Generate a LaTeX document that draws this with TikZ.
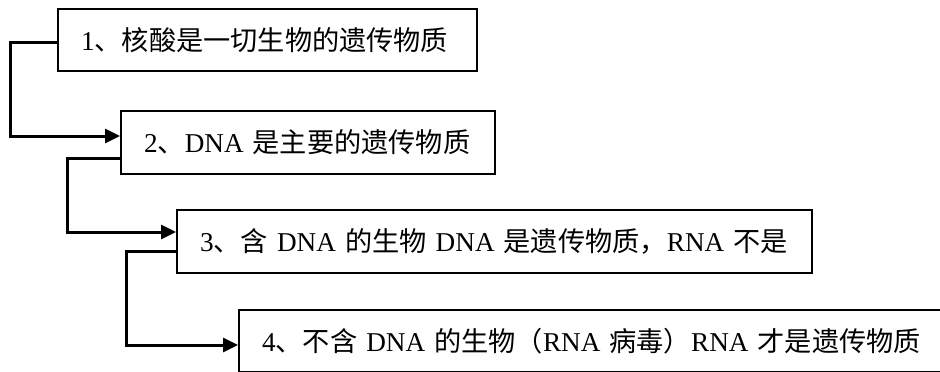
\documentclass[tikz,border=0pt]{standalone}
\usepackage{fontspec}
\setmainfont{Liberation Serif}
\newfontfamily\cjk{Noto Sans CJK SC}[Scale=1.0]
\usetikzlibrary{arrows.meta}
\begin{document}
\begin{tikzpicture}[x=1pt,y=-1pt,
  box/.style={draw=black,line width=2pt,rectangle,anchor=north west,inner xsep=23pt,inner ysep=0pt,
    align=left,font=\fontsize{27.2}{33}\selectfont},
  conn/.style={draw=black,line width=3pt,line join=miter,-{Triangle[length=15pt,width=14pt]}}]
\useasboundingbox (0,0) rectangle (940,372);
\clip (0,0) rectangle (940,372);
\node[box,minimum width=419pt,minimum height=62pt,text width=373pt] (b1) at (57,8)
  {1{\cjk 、核酸是一切生物的遗传物质}};
\node[box,minimum width=374pt,minimum height=63pt,text width=328pt] (b2) at (120,110)
  {2{\cjk 、}DNA {\cjk 是主要的遗传物质}};
\node[box,minimum width=635pt,minimum height=63pt,text width=589pt] (b3) at (176,209)
  {3{\cjk 、含} DNA {\cjk 的生物} DNA {\cjk 是遗传物质，}RNA {\cjk 不是}};
\node[box,minimum width=707pt,minimum height=62pt,text width=661pt] (b4) at (238,309)
  {4{\cjk 、不含} DNA {\cjk 的生物（}RNA {\cjk 病毒）}RNA {\cjk 才是遗传物质}};
\draw[conn] ([yshift=-2pt]b1.west) -- +(-47,0) |- ([yshift=6.5pt]b2.west);
\draw[conn] ([yshift=-15.5pt]b2.west) -- +(-53,0) |- ([yshift=9.5pt]b3.west);
\draw[conn] ([yshift=-9.5pt]b3.west) -- +(-50,0) |- ([yshift=-4pt]b4.west);
\end{tikzpicture}
\end{document}
